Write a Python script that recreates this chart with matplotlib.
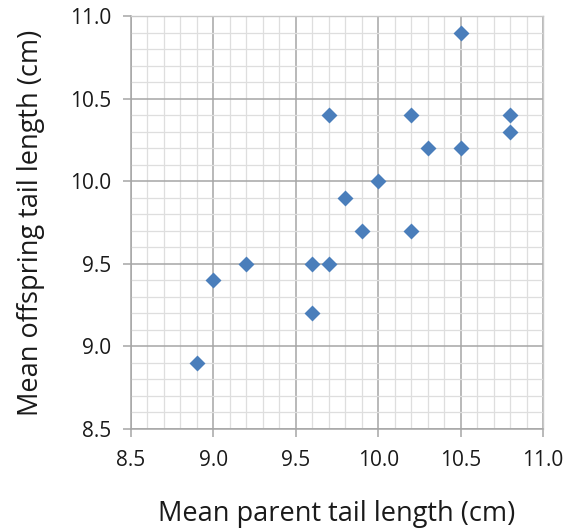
import matplotlib
matplotlib.use("Agg")
import matplotlib.pyplot as plt
import numpy as np
from matplotlib.ticker import MultipleLocator, FormatStrFormatter

parent = [8.9, 9.0, 9.2, 9.6, 9.7, 9.6, 9.7, 9.8, 9.9, 10.0, 10.2, 10.2, 10.3, 10.5, 10.5, 10.8, 10.8]
offspring = [8.9, 9.4, 9.5, 9.5, 9.5, 9.2, 10.4, 9.9, 9.7, 10.0, 10.4, 9.7, 10.2, 10.9, 10.2, 10.4, 10.3]
x_label = "Mean parent tail length (cm)"
y_label = "Mean offspring tail length (cm)"

plt.rcParams['font.family'] = ['Open Sans', 'DejaVu Sans']

fig = plt.figure(figsize=(5.70, 5.31), dpi=100)
ax = fig.add_axes([131/570, 1-429/531, (543-131)/570, (429-16)/531])

ax.set_xlim(8.5, 11.0)
ax.set_ylim(8.5, 11.0)
ax.xaxis.set_major_locator(MultipleLocator(0.5))
ax.yaxis.set_major_locator(MultipleLocator(0.5))
ax.xaxis.set_minor_locator(MultipleLocator(0.1))
ax.yaxis.set_minor_locator(MultipleLocator(0.1))
ax.xaxis.set_major_formatter(FormatStrFormatter('%.1f'))
ax.yaxis.set_major_formatter(FormatStrFormatter('%.1f'))

ax.grid(which='minor', color='#dedede', linewidth=0.9)
ax.grid(which='major', color='#a6a6a6', linewidth=1.1)
ax.set_axisbelow(True)

for s in ['top', 'right']:
    ax.spines[s].set_color('#c8c8c8')
    ax.spines[s].set_linewidth(1.0)
for s in ['left', 'bottom']:
    ax.spines[s].set_color('#a6a6a6')
    ax.spines[s].set_linewidth(1.1)

ax.tick_params(which='major', direction='out', length=6, width=1.1, color='#a6a6a6',
               labelsize=15, labelcolor='#1a1a1a')
ax.tick_params(axis='x', which='major', pad=9)
ax.tick_params(axis='y', which='major', pad=8)
ax.tick_params(which='minor', length=0)

ax.scatter(parent, offspring, marker='D', s=66, color='#4a7ebb', zorder=3, linewidths=0)

ax.set_xlabel(x_label, fontsize=19.5, labelpad=21, color='#1a1a1a')
ax.set_ylabel(y_label, fontsize=19.5, labelpad=18, color='#1a1a1a')

fig.savefig("out.png", dpi=100)
